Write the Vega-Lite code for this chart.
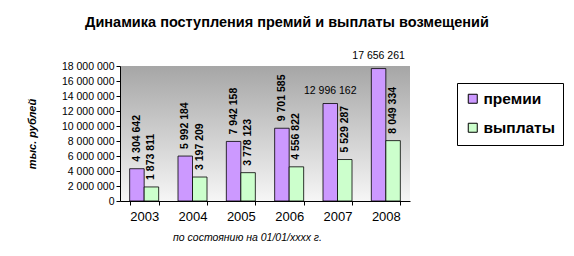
{
  "$schema": "https://vega.github.io/schema/vega-lite/v6.json",
  "width": 290,
  "height": 135,
  "autosize": "none",
  "padding": {"left": 120, "top": 66, "right": 164, "bottom": 55},
  "background": "white",
  "config": {
    "font": "Liberation Sans",
    "locale": {"number": {"decimal": ",", "thousands": " ", "grouping": [3], "currency": ["", ""]}},
    "view": {"stroke": null}
  },
  "view": {
    "stroke": null,
    "fill": {"gradient": "linear", "x1": 0, "y1": 0, "x2": 0, "y2": 1,
      "stops": [{"offset": 0, "color": "#a6a6a6"}, {"offset": 1, "color": "#f6f6f6"}]}
  },
  "title": {
    "text": "Динамика поступления премий и выплаты возмещений",
    "fontSize": 14.5,
    "fontWeight": "bold",
    "color": "#000",
    "anchor": "middle",
    "dx": 22,
    "offset": 20
  },
  "data": {
    "values": [
      {"year": "2003", "series": "премии", "value": 4304642},
      {"year": "2003", "series": "выплаты", "value": 1873811},
      {"year": "2004", "series": "премии", "value": 5992184},
      {"year": "2004", "series": "выплаты", "value": 3197209},
      {"year": "2005", "series": "премии", "value": 7942158},
      {"year": "2005", "series": "выплаты", "value": 3778123},
      {"year": "2006", "series": "премии", "value": 9701585},
      {"year": "2006", "series": "выплаты", "value": 4556822},
      {"year": "2007", "series": "премии", "value": 12996162},
      {"year": "2007", "series": "выплаты", "value": 5529287},
      {"year": "2008", "series": "премии", "value": 17656261},
      {"year": "2008", "series": "выплаты", "value": 8049334}
    ]
  },
  "encoding": {
    "x": {
      "field": "year", "type": "ordinal",
      "scale": {"paddingInner": 0.4, "paddingOuter": 0.2},
      "axis": {
        "title": "по состоянию на 01/01/xxxx г.",
        "titleFontStyle": "italic", "titleFontWeight": "normal", "titleFontSize": 10.5,
        "titleColor": "#000", "titleX": 127, "titlePadding": 9,
        "labelAngle": 0, "labelFontSize": 13, "labelColor": "#000", "labelPadding": 5,
        "tickBand": "extent", "tickColor": "#000", "tickSize": 4,
        "domainColor": "#000", "grid": false
      }
    },
    "xOffset": {"field": "series", "type": "nominal", "sort": ["премии", "выплаты"]},
    "y": {
      "field": "value", "type": "quantitative",
      "scale": {"domain": [0, 18000000], "nice": false},
      "axis": {
        "title": "тыс. рублей",
        "titleFontStyle": "italic", "titleFontWeight": "bold", "titleFontSize": 11,
        "titleColor": "#000", "titlePadding": 24,
        "values": [0, 2000000, 4000000, 6000000, 8000000, 10000000, 12000000, 14000000, 16000000, 18000000],
        "format": ",d",
        "labelFontSize": 10.5, "labelColor": "#000", "labelPadding": 2,
        "tickColor": "#000", "tickSize": 4, "domainColor": "#000", "grid": false
      }
    }
  },
  "layer": [
    {
      "mark": {"type": "bar", "stroke": "#000", "strokeWidth": 0.8},
      "encoding": {
        "color": {
          "field": "series", "type": "nominal",
          "scale": {"domain": ["премии", "выплаты"], "range": ["#cc99ff", "#ccffcc"]},
          "legend": {
            "title": null, "orient": "none", "legendX": 337, "legendY": 17,
            "strokeColor": "#000", "fillColor": "#fff", "padding": 8,
            "symbolType": "square", "symbolSize": 81, "symbolStrokeColor": "#000",
            "symbolStrokeWidth": 1, "labelFontSize": 15.5, "labelFontWeight": "bold",
            "labelColor": "#000", "rowPadding": 12, "labelOffset": 3
          }
        }
      }
    },
    {
      "transform": [{"filter": "!(datum.series == 'премии' && datum.value > 12000000)"}],
      "mark": {"type": "text", "angle": 270, "align": "left", "baseline": "middle", "dx": 7,
        "fontSize": 10.5, "fontWeight": "bold", "color": "#000"},
      "encoding": {"text": {"field": "value", "type": "quantitative", "format": ",d"}}
    },
    {
      "transform": [{"filter": "datum.series == 'премии' && datum.value > 12000000"}],
      "mark": {"type": "text", "align": "center", "baseline": "bottom", "dy": -8,
        "fontSize": 10.5, "color": "#000"},
      "encoding": {"text": {"field": "value", "type": "quantitative", "format": ",d"}}
    }
  ]
}
